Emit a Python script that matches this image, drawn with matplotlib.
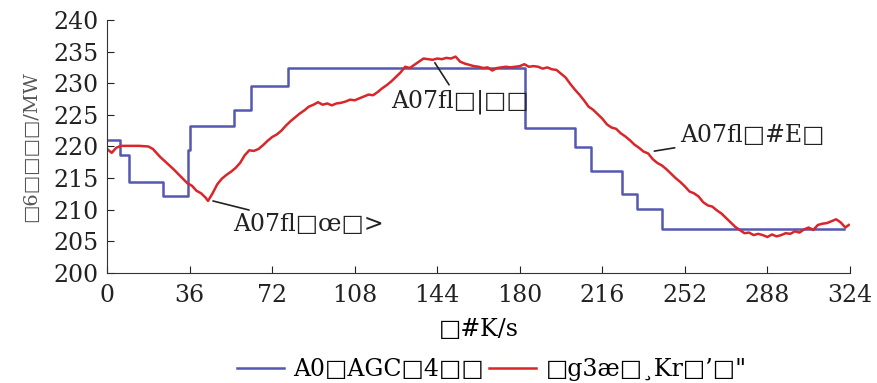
import matplotlib.pyplot as plt
import numpy as np

# AGC step command (blue)
t_agc = [0, 5.7, 9.6, 24.2, 35.1, 36.2, 55.4, 62.7, 78.7, 182.3, 203.9, 211.2, 224.8, 231.3, 242.0, 321.5]
p_agc = [221.0, 218.7, 214.4, 212.2, 219.4, 223.2, 225.7, 229.5, 232.4, 223.0, 219.9, 216.2, 212.5, 210.1, 207.0, 207.0]

# measured unit output (red)
t_out = [0, 2, 4, 6, 10, 14, 18, 20, 23, 26, 29, 32, 35, 37, 39, 41, 43, 44, 46, 48,
         50, 52, 54, 56, 58, 60, 62, 64, 66, 68, 70, 72, 74, 76, 78, 80, 82, 84, 86, 88,
         90, 92, 94, 96, 98, 100, 102, 104, 106, 108, 110, 112, 114, 116, 118, 120, 122, 124, 126, 128,
         130, 132, 134, 136, 138, 140, 142, 144, 146, 148, 150, 152, 154, 156, 158, 160, 162, 164, 166, 168,
         170, 172, 174, 176, 178, 180, 182, 184, 186, 188, 190, 192, 194, 196, 198, 200, 202, 204, 206, 208,
         210, 212, 214, 216, 218, 220, 222, 224, 226, 228, 230, 232, 234, 236, 238, 240, 242, 244, 246, 248,
         250, 252, 254, 256, 258, 260, 262, 264, 266, 268, 270, 272, 274, 276, 278, 280, 282, 284, 286, 288,
         290, 292, 294, 296, 298, 300, 302, 304, 306, 308, 310, 312, 314, 316, 318, 320, 322, 323.5]
p_out = [219.6, 219.0, 219.8, 220.1, 220.1, 220.1, 220.0, 219.6, 218.4, 217.4, 216.4, 215.3, 214.2, 213.8, 213.0, 212.6, 211.9, 211.4, 212.6, 214.0,
         214.9, 215.5, 216.0, 216.6, 217.4, 218.6, 219.4, 219.3, 219.6, 220.2, 220.9, 221.5, 221.9, 222.5, 223.3, 224.0, 224.6, 225.2, 225.7, 226.3,
         226.6, 227.0, 226.6, 226.8, 226.5, 226.8, 226.9, 227.1, 227.4, 227.3, 227.6, 227.9, 228.2, 228.1, 228.6, 229.2, 229.7, 230.3, 231.0, 231.7,
         232.6, 232.4, 232.9, 233.4, 233.9, 233.8, 233.7, 233.9, 233.8, 234.0, 233.9, 234.2, 233.4, 233.1, 232.9, 232.7, 232.6, 232.4, 232.5, 232.0,
         232.4, 232.5, 232.6, 232.5, 232.6, 232.7, 233.0, 232.6, 232.7, 232.6, 232.3, 232.5, 232.2, 232.1, 231.5, 230.9, 229.9, 229.0, 228.2, 227.3,
         226.3, 225.8, 225.1, 224.4, 223.5, 223.0, 222.8, 222.1, 221.6, 221.0, 220.3, 219.8, 219.2, 218.9, 218.0, 217.4, 217.0, 216.4, 215.7, 215.0,
         214.4, 213.7, 212.9, 212.6, 212.1, 211.2, 210.7, 210.5, 209.9, 209.4, 208.7, 208.0, 207.3, 206.8, 206.3, 206.4, 206.0, 206.2, 206.0, 205.7,
         206.1, 205.8, 206.0, 206.3, 206.2, 206.6, 206.4, 206.9, 207.2, 206.8, 207.6, 207.8, 207.9, 208.2, 208.5, 208.0, 207.2, 207.6]

x_ticks = [0, 36, 72, 108, 144, 180, 216, 252, 288, 324]
y_ticks = [200, 205, 210, 215, 220, 225, 230, 235, 240]

lbl_agc = 'A0□AGC□4□□'
lbl_out = '□g3æ□¸Kr□’□"'
xlab = '□#K/s'
ylab = '□6□□□□/MW'
notes = ['A07ﬂ□œ□>', 'A07ﬂ□|□□', 'A07ﬂ□#E□']

plt.rcParams['font.family'] = ['DejaVu Serif']

fig = plt.figure(figsize=(8.78, 3.83), dpi=100)
ax = fig.add_axes([0.122, 0.287, 0.846, 0.661])

ax.plot(t_agc, p_agc, drawstyle='steps-post', color='#5458b0', lw=1.8, label=lbl_agc)
ax.plot(t_out, p_out, color='#d8262a', lw=1.8, label=lbl_out)

ax.set_xlim(0, 324)
ax.set_ylim(200, 240)
ax.set_xticks(x_ticks)
ax.set_yticks(y_ticks)
ax.tick_params(direction='in', labelsize=17, length=5, colors='#222222')
ax.tick_params(axis='y', pad=6)
ax.tick_params(axis='x', pad=8)
for s in ['top', 'right']:
    ax.spines[s].set_visible(False)
for s in ['left', 'bottom']:
    ax.spines[s].set_color('#333333')

ax.set_xlabel(xlab, fontsize=17, labelpad=8)
ax.set_ylabel(ylab, fontsize=14, color='#555555', labelpad=10)

ann = dict(fontsize=17, color='#222222',
           arrowprops=dict(arrowstyle='-', color='#222222', lw=1.2))
ax.annotate(notes[0], xy=(45, 211.5), xytext=(55.0, 207.6), va='center', **ann)
ax.annotate(notes[1], xy=(142.3, 233.6), xytext=(124.0, 227.0), va='center', **ann)
ax.annotate(notes[2], xy=(237.5, 219.2), xytext=(250.0, 221.8), va='center', **ann)

fig.legend(loc='center', bbox_to_anchor=(0.56, 0.035), ncol=2, frameon=False,
           fontsize=17, handlelength=2.0, columnspacing=0.2, handletextpad=0.4)

fig.savefig('out.png', dpi=100)
